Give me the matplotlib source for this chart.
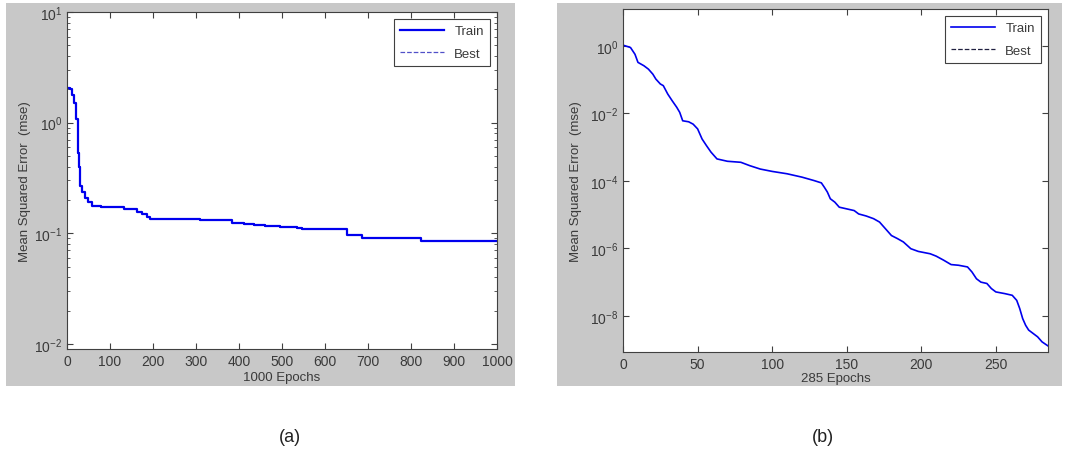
import numpy as np
import matplotlib
matplotlib.use('Agg')
import matplotlib.pyplot as plt
from matplotlib.patches import Rectangle
from matplotlib.ticker import LogLocator, NullFormatter, NullLocator

plt.rcParams['font.family'] = ['Liberation Sans', 'DejaVu Sans']
plt.rcParams['mathtext.fontset'] = 'custom'
plt.rcParams['mathtext.rm'] = 'Liberation Sans'
plt.rcParams['mathtext.it'] = 'Liberation Sans'

# (a) training run, 1000 epochs (step-like mse)
epochs_a = [0, 8, 12, 17, 22, 25, 29, 31, 35, 43, 50, 58, 78, 132, 163, 174, 186,
            194, 310, 384, 411, 434, 461, 496, 535, 547, 651, 686, 823, 1000]
mse_a = [2.05, 2.0, 1.76, 1.5, 1.07, 0.53, 0.40, 0.27, 0.236, 0.21, 0.19, 0.178,
         0.172, 0.166, 0.155, 0.148, 0.139, 0.134, 0.132, 0.124, 0.121, 0.118,
         0.116, 0.114, 0.111, 0.1096, 0.0966, 0.0912, 0.085, 0.085]

# (b) training run, 285 epochs (log10 of mse)
epochs_b = [0, 5, 8, 10, 14, 17, 20, 22, 25, 27, 30, 33, 36, 38, 40, 44, 47, 50,
            53, 56, 59, 61, 63, 66, 70, 79, 85, 92, 100, 110, 120, 128, 133, 135,
            137, 139, 142, 145, 150, 155, 158, 163, 168, 172, 176, 180, 184, 188,
            193, 198, 206, 210, 215, 220, 225, 231, 234, 237, 240, 244, 247, 250,
            256, 261, 264, 266, 268, 270, 272, 275, 278, 281, 285]
log_mse_b = [0.02, -0.05, -0.25, -0.49, -0.59, -0.69, -0.84, -0.985, -1.13, -1.18,
             -1.43, -1.63, -1.82, -1.97, -2.22, -2.25, -2.32, -2.46, -2.76, -2.96,
             -3.15, -3.25, -3.35, -3.38, -3.42, -3.45, -3.55, -3.65, -3.72, -3.79,
             -3.89, -3.99, -4.06, -4.19, -4.33, -4.53, -4.63, -4.78, -4.83, -4.88,
             -4.98, -5.04, -5.12, -5.22, -5.42, -5.62, -5.71, -5.81, -6.01, -6.09,
             -6.16, -6.23, -6.35, -6.48, -6.50, -6.55, -6.70, -6.90, -7.00, -7.04,
             -7.19, -7.29, -7.34, -7.39, -7.54, -7.78, -8.08, -8.28, -8.42, -8.52,
             -8.62, -8.77, -8.89]

text_col = '#3a3a3a'
grey = '#c8c8c8'

fig = plt.figure(figsize=(10.77, 4.52), dpi=100)

# grey panel backgrounds
for x0, w in [(0.0056, 0.4726), (0.5172, 0.4689)]:
    fig.add_artist(Rectangle((x0, 0.1438), w, 0.847, transform=fig.transFigure,
                             facecolor=grey, edgecolor='none', zorder=0))

ax1 = fig.add_axes([0.0622, 0.2257, 0.3993, 0.7456])
ax2 = fig.add_axes([0.5785, 0.219, 0.3946, 0.7588])

ax1.plot(epochs_a, mse_a, color='#0000ee', lw=1.6, drawstyle='steps-post', label='Train')
ax1.plot([], [], color='#5050c8', lw=0.9, ls='--', label='Best')
ax1.set_yscale('log')
ax1.set_xlim(0, 1000)
ax1.set_ylim(10 ** -2.046, 10)
ax1.set_xticks(np.arange(0, 1001, 100))
ax1.set_yticks([1e-2, 1e-1, 1e0, 1e1])
ax1.yaxis.set_minor_locator(LogLocator(base=10, subs=np.arange(2, 10)))
ax1.yaxis.set_minor_formatter(NullFormatter())
ax1.set_xlabel('1000 Epochs', color=text_col, fontsize=9.5, labelpad=2)
ax1.set_ylabel('Mean Squared Error  (mse)', color=text_col, fontsize=9.5, labelpad=2)

ax2.plot(epochs_b, 10 ** np.array(log_mse_b), color='#0000ee', lw=1.2, label='Train')
ax2.plot([], [], color='#202040', lw=0.9, ls='--', label='Best')
ax2.set_yscale('log')
ax2.set_xlim(0, 285)
ax2.set_ylim(10 ** -9.07, 10 ** 1.09)
ax2.set_xticks(np.arange(0, 251, 50))
ax2.set_yticks([1e-8, 1e-6, 1e-4, 1e-2, 1e0])
ax2.yaxis.set_minor_locator(NullLocator())
ax2.set_xlabel('285 Epochs', color=text_col, fontsize=9.5, labelpad=1)
ax2.set_ylabel('Mean Squared Error  (mse)', color=text_col, fontsize=9.5, labelpad=6)

for ax in (ax1, ax2):
    ax.tick_params(which='both', direction='in', top=True, right=True,
                   labelsize=10, labelcolor=text_col, color='#404040')
    ax.tick_params(which='major', length=4)
    ax.tick_params(which='minor', length=2)
    for s in ax.spines.values():
        s.set_color('#404040')
        s.set_linewidth(0.8)
    leg = ax.legend(loc='upper right', fontsize=9.5, fancybox=False, framealpha=1,
                    edgecolor='#404040', borderaxespad=0.5, handlelength=3.3,
                    labelspacing=0.75, borderpad=0.5)
    leg.get_frame().set_linewidth(0.8)
    for t in leg.get_texts():
        t.set_color(text_col)

fig.text(0.269, 0.033, '(a)', ha='center', va='center', fontsize=13, color='#222222')
fig.text(0.764, 0.033, '(b)', ha='center', va='center', fontsize=13, color='#222222')

fig.savefig('out.png', dpi=100)
